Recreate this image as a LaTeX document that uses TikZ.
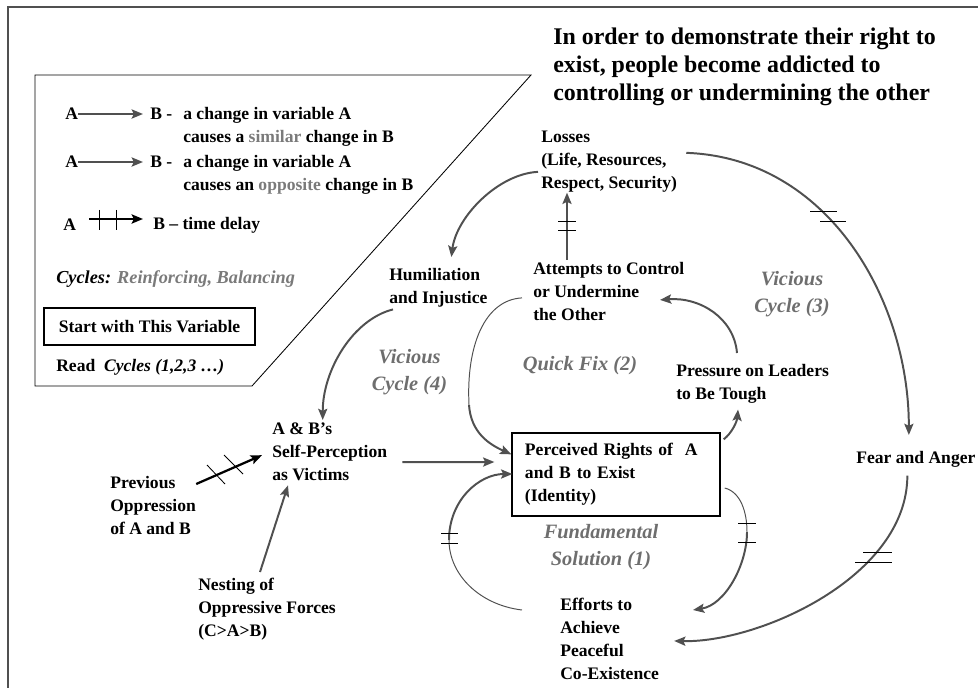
\documentclass[tikz,border=0pt]{standalone}
\usepackage{fontspec}
\setmainfont{Liberation Serif}
\usepackage{tikz}
\usepackage{xcolor}
\usetikzlibrary{arrows.meta,calc}

\definecolor{linkgray}{HTML}{505050}
\definecolor{labelgray}{HTML}{6E6E6E}
\definecolor{softgray}{HTML}{7A7A7A}
\newcommand{\varfont}{\fontsize{12.5}{16.3}\selectfont\bfseries}

\begin{document}
\begin{tikzpicture}[
    x=0.025cm, y=-0.025cm,
    var/.style={anchor=north west, align=left, inner sep=0pt, font=\varfont},
    legtext/.style={anchor=west, inner sep=0pt, font=\varfont},
    looplabel/.style={align=center, inner sep=0pt, text=labelgray, font=\fontsize{14.5}{19.2}\selectfont\bfseries\itshape},
    link/.style={->, line width=1.4pt, draw=linkgray, >={Stealth[length=8pt,width=6.5pt,inset=1.5pt]}},
    thinlink/.style={line width=0.7pt, draw=linkgray},
    blacklink/.style={link, draw=black, line width=1.6pt},
    delaymark/.style={line width=0.6pt, draw=black},
    outerframe/.style={line width=1.5pt, draw=linkgray}
]
\useasboundingbox (0,0) rectangle (978,688);
\draw[outerframe] (8,688) -- (8,7) -- (978,7);

% legend
\draw[line width=0.6pt] (35,75) -- (531,75) -- (252,386) -- (35,386) -- cycle;
\node[legtext] (la1) at (65,114) {A};
\node[legtext] (lb1) at (150,114) {B -};
\node[var] (ld1) at (183,107) {a change in variable A\\causes a \textcolor{softgray}{similar} change in B};
\node[legtext] (la2) at (65,162) {A};
\node[legtext] (lb2) at (150,162) {B -};
\node[var] (ld2) at (183,155) {a change in variable A\\causes an \textcolor{softgray}{opposite} change in B};
\node[legtext] (la3) at (63,225) {A};
\node[legtext] (lb3) at (153,225) {B – time delay};
\draw[link, shorten >=5pt] (la1.east) -- (lb1.west);
\draw[link, shorten >=5pt] (la2.east) -- (lb2.west);
\draw[blacklink] ($(la3.east)+(13,-6)$) -- ($(lb3.west)+(-10,-6)$);
\draw[delaymark] (99,210) -- (99,230) (116,210) -- (116,230);
\node[legtext, font=\fontsize{13}{16}\selectfont\bfseries\itshape] (cyc) at (56,279) {Cycles: \textcolor{softgray}{Reinforcing, Balancing}};
\node[draw, line width=0.8pt, minimum width=5.275cm, minimum height=0.925cm, inner sep=0pt, font=\varfont] (start) at (149.5,326.5) {Start with This Variable};
\node[legtext] (read) at (56,367) {Read\ \ \textit{Cycles (1,2,3 …)}};

% title
\node[var, font=\fontsize{17}{19.85}\selectfont\bfseries] (title) at (553,27.5) {In order to demonstrate their right to\\exist, people become addicted to\\controlling or undermining the other};

% variables
\node[var] (losses) at (541,131) {Losses\\(Life, Resources,\\Respect, Security)};
\node[var] (attempts) at (533,262) {Attempts to Control\\or Undermine\\the Other};
\node[var] (humil) at (389,268) {Humiliation\\and Injustice};
\node[var] (pressure) at (676,364) {Pressure on Leaders\\to Be Tough};
\node[var] (fear) at (856,451) {Fear and Anger};
\node[var] (efforts) at (560,598) {Efforts to\\Achieve\\Peaceful\\Co-Existence};
\node[var] (selfperc) at (272,423) {A \& B’s\\Self-Perception\\as Victims};
\node[var] (previous) at (110,476) {Previous\\Oppression\\of A and B};
\node[var] (nesting) at (198,578) {Nesting of\\Oppressive Forces\\(C>A>B)};
\node[draw, line width=0.9pt, minimum width=5.2cm, minimum height=2.075cm, inner xsep=0.325cm, inner ysep=0pt, text width=4.55cm, align=left, font=\varfont] (rights) at (616,474.5) {Perceived Rights of\ \ A\\and B to Exist\\(Identity)};

% cycle names
\node[looplabel] (vc3) at (792,294.5) {Vicious\\Cycle (3)};
\node[looplabel] (vc4) at (409.5,372.5) {Vicious\\Cycle (4)};
\node[looplabel] (qfix) at (580,366) {Quick Fix (2)};
\node[looplabel] (fund) at (601,547) {Fundamental\\Solution (1)};

% links
\draw[link] ($(losses.west)+(-3,10)$) .. controls +(-40,2) and +(5,-40) .. ($(humil.north)+(13,-11)$);
\draw[link] ($(attempts.north west)+(34,-2)$) -- ($(losses.south west)+(26,0)$);
\draw[delaymark] (558,221) -- (576,221) (558,230) -- (576,230);
\draw[link] ($(losses.east)+(9,-9)$) .. controls +(142,5) and +(0,-135) .. ($(fear.north)+(-7,-16)$);
\draw[delaymark] (810,211) -- (837,211) (820,221) -- (846,221);
\draw[link] ($(fear.south)+(-8.5,8)$) .. controls +(0,101) and +(85,2) .. ($(efforts.east)+(15,2)$);
\draw[delaymark] (863,552) -- (892,552) (855,562) -- (892,562);
\draw[link] ($(rights.north east)+(3,7)$) .. controls +(8,-6) and +(-1,12) .. ($(pressure.south west)+(62,6)$);
\draw[link] ($(pressure.north west)+(61,-11)$) .. controls +(-3,-35) and +(40,-3) .. ($(attempts.west)+(127,8.5)$);

\coordinate (c7) at (469,405);
\draw[thinlink] ($(attempts.west)+(-11,6.5)$) .. controls +(-37,2) and +(-3,-60) .. (c7);
\draw[link] (c7) .. controls +(2,28) and +(-22,-10) .. ($(rights.north west)+(0,22)$);

\draw[link] ($(humil.south west)+(4,2)$) .. controls +(-40,10) and +(0,-50) .. ($(selfperc.north)+(-7,-3)$);
\draw[link] ($(selfperc.east)+(15,10)$) -- ($(rights.west)+(-17,-12.5)$);
\draw[blacklink] ($(previous.north east)+(0,8)$) -- ($(selfperc.west)+(-10,3)$);
\draw[delaymark] (207,465) -- (225,484) (224,455) -- (243,474);
\draw[link] ($(nesting.north west)+(62,-6)$) -- ($(selfperc.south west)+(16,4)$);

\coordinate (c12) at (449,540);
\draw[thinlink] ($(efforts.north west)+(-38,12)$) .. controls +(-42,-5) and +(0,35) .. (c12);
\draw[link] (c12) .. controls +(0,-40) and +(-33,0) .. ($(rights.west)+(1,-0.5)$);
\draw[delaymark] (441,533) -- (458,533) (441,543) -- (458,543);

\coordinate (c13) at (747,532);
\draw[thinlink] ($(rights.east)+(4,13.5)$) .. controls +(16,4) and +(0,-20) .. (c13);
\draw[link] (c13) .. controls +(0,33) and +(32,-5) .. ($(efforts.north west)+(133,12)$);
\draw[delaymark] (738,523) -- (756,523) (738,542) -- (756,542);
\end{tikzpicture}
\end{document}
